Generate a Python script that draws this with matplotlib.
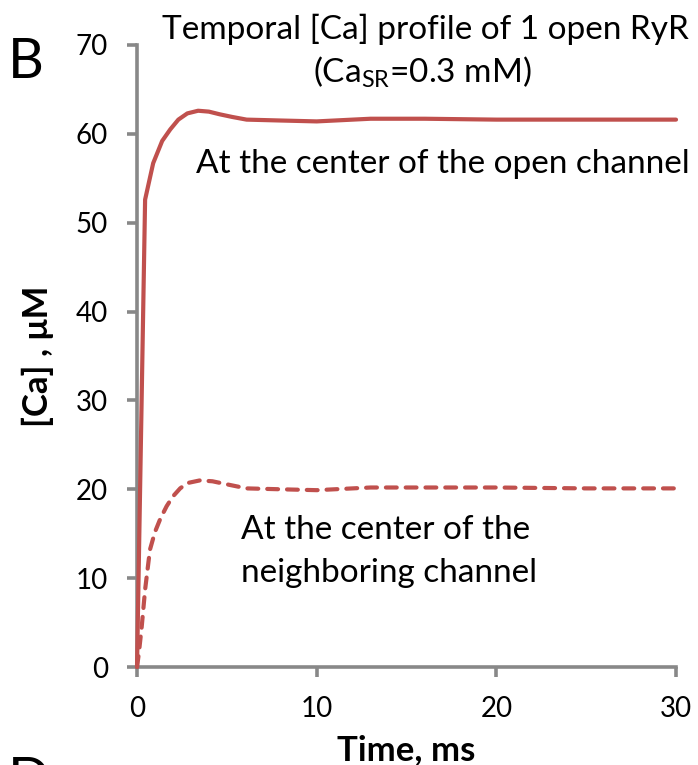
import matplotlib
matplotlib.use("Agg")
import matplotlib.pyplot as plt

plt.rcParams['font.family'] = ['Lato', 'DejaVu Sans']
plt.rcParams['mathtext.fontset'] = 'custom'
plt.rcParams['mathtext.rm'] = 'Lato'

# Time axis (ms) and calcium concentration (uM)
t_open = [0, 0.45, 0.9, 1.4, 1.85, 2.3, 2.8, 3.4, 4.0, 4.6, 5.3, 6.1, 8, 10, 13, 16, 20, 25, 30]
ca_open = [0, 52.6, 56.7, 59.2, 60.5, 61.6, 62.3, 62.6, 62.5, 62.2, 61.9, 61.6, 61.5, 61.4,
           61.7, 61.7, 61.6, 61.6, 61.6]

t_neigh = [0, 0.1, 0.26, 0.45, 0.72, 1.0, 1.3, 1.65, 2.0, 2.4, 2.8, 3.5, 4.2, 4.9, 6.1,
           8, 10, 13, 16, 20, 25, 30]
ca_neigh = [0, 1.5, 4.5, 8.7, 13.2, 15.2, 16.7, 18.1, 19.2, 20.1, 20.7, 21.0, 20.9, 20.6,
            20.1, 20.0, 19.9, 20.2, 20.2, 20.2, 20.1, 20.1]

x_ticks = [0, 10, 20, 30]
y_ticks = [0, 10, 20, 30, 40, 50, 60, 70]

red = '#C0504D'
grey = '#888888'

fig = plt.figure(figsize=(6.98, 7.65), dpi=100)
ax = fig.add_axes([0.1963, 0.1281, 0.7722, 0.8131])

ax.plot(t_open, ca_open, color=red, lw=3.0, solid_capstyle='round',
        solid_joinstyle='round', clip_on=False, zorder=3)
ax.plot(t_neigh, ca_neigh, color=red, lw=3.0, dashes=(2.6, 2.15),
        dash_capstyle='round', clip_on=False, zorder=3)

ax.set_xlim(0, 30)
ax.set_ylim(0, 70)
ax.set_xticks(x_ticks)
ax.set_yticks(y_ticks)

for s in ['top', 'right']:
    ax.spines[s].set_visible(False)
for s in ['left', 'bottom']:
    ax.spines[s].set_color(grey)
    ax.spines[s].set_linewidth(2.6)
ax.tick_params(axis='both', colors=grey, width=2.6, length=7, direction='out',
               labelsize=20, labelcolor='black')
ax.tick_params(axis='x', pad=14)
ax.tick_params(axis='y', pad=14)

ax.set_xlabel('Time, ms', fontsize=25, fontweight='bold')
ax.xaxis.set_label_coords(0.5, -0.1334)
ax.xaxis.label.set_va('center')
ax.set_ylabel('[Ca] , μM', fontsize=25, fontweight='bold')
ax.yaxis.set_label_coords(-0.1837, 0.5)
ax.yaxis.label.set(rotation_mode='default', va='center', ha='center')

fig.text(0.610, 1 - 39 / 765, 'Temporal [Ca] profile of 1 open RyR',
         ha='center', va='baseline', fontsize=24)
fig.text(0.605, 1 - 82 / 765, r'(Ca$_{\mathrm{SR}}$=0.3 mM)',
         ha='center', va='baseline', fontsize=24)

ax.text(3.3, 55.6, 'At the center of the open channel', fontsize=24,
        va='baseline', ha='left', clip_on=False)
ax.text(5.8, 14.4, 'At the center of the', fontsize=24, va='baseline', ha='left')
ax.text(5.8, 9.57, 'neighboring channel', fontsize=24, va='baseline', ha='left')

fig.text(0.011, 1 - 78 / 765, 'B', fontsize=40, va='baseline', ha='left')
fig.text(0.011, 1 - 797 / 765, 'D', fontsize=40, va='baseline', ha='left')

fig.savefig('out.png', dpi=100)
